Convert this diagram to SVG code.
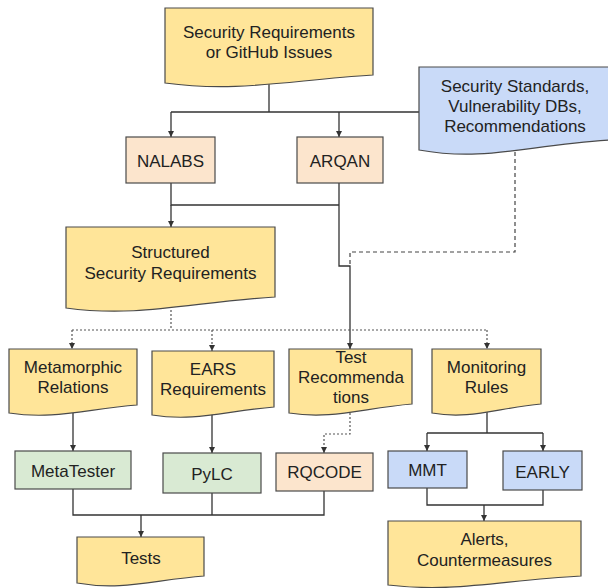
<svg xmlns="http://www.w3.org/2000/svg" width="608" height="588" viewBox="0 0 608 588">
<defs>
<marker id="arr" viewBox="0 0 10 10" refX="10" refY="5" markerWidth="6" markerHeight="6" markerUnits="userSpaceOnUse" orient="auto">
<path d="M0,0 L10,5 L0,10 Z" fill="#333"/>
</marker>
</defs>
<style>
.doc{fill:#ffe599;stroke:#4a4a4a;stroke-width:1.2}
.docb{fill:#c9daf8;stroke:#4a4a4a;stroke-width:1.2}
.org{fill:#fce5cd;stroke:#4a4a4a;stroke-width:1.2}
.grn{fill:#d9ead3;stroke:#4a4a4a;stroke-width:1.2}
.blu{fill:#c9daf8;stroke:#4a4a4a;stroke-width:1.2}
text{font-family:"Liberation Sans",Arial,sans-serif;font-size:17px;fill:#222;text-anchor:middle}
.ln{fill:none;stroke:#333;stroke-width:1.3}
.dash{fill:none;stroke:#444;stroke-width:1.2;stroke-dasharray:4,3}
.dot{fill:none;stroke:#555;stroke-width:1.2;stroke-dasharray:2,2}
</style>
<rect width="608" height="588" fill="#fff"/>

<g id="connectors">
<path class="ln" d="M269,84 V112 M171,112 H419"/>
<path class="ln" d="M171,112 V137" marker-end="url(#arr)"/>
<path class="ln" d="M339,112 V137" marker-end="url(#arr)"/>
<path class="ln" d="M171,183 V205 H339"/>
<path class="ln" d="M171,205 V227" marker-end="url(#arr)"/>
<path class="ln" d="M339,183 V266 H350 V349" marker-end="url(#arr)"/>
<path class="dash" d="M515,152 V252 H350 V266"/>
<path class="dot" d="M171,306 V330 M72,330 H487"/>
<path class="dot" d="M72,330 V349" marker-end="url(#arr)"/>
<path class="dot" d="M212,330 V351" marker-end="url(#arr)"/>
<path class="dot" d="M487,330 V349" marker-end="url(#arr)"/>
<path class="ln" d="M73,413 V451" marker-end="url(#arr)"/>
<path class="ln" d="M212,414 V453" marker-end="url(#arr)"/>
<path class="dot" d="M350,409 V434 H324 V453" marker-end="url(#arr)"/>
<path class="ln" d="M487,409 V433 M427,433 H543"/>
<path class="ln" d="M427,433 V451" marker-end="url(#arr)"/>
<path class="ln" d="M543,433 V451" marker-end="url(#arr)"/>
<path class="ln" d="M73,489 V515 H324 V491 M212,493 V515"/>
<path class="ln" d="M141,515 V537" marker-end="url(#arr)"/>
<path class="ln" d="M427,488 V505 H543 V490"/>
<path class="ln" d="M484,505 V521" marker-end="url(#arr)"/>
</g>

<g id="sec-req">
<path class="doc" d="M165,8 H373 V75 C290,80 238,93 165,83 Z"/>
<text x="269" y="38">Security Requirements</text>
<text x="269" y="58">or GitHub Issues</text>
</g>

<g id="sec-std">
<path class="docb" d="M419,67 H611 V140 C526,145 486,162 419,150 Z"/>
<text x="515" y="92">Security Standards,</text>
<text x="515" y="112">Vulnerability DBs,</text>
<text x="515" y="132">Recommendations</text>
</g>

<g id="nalabs">
<rect class="org" x="126" y="137" width="89" height="46"/>
<text x="170.5" y="167">NALABS</text>
</g>

<g id="arqan">
<rect class="org" x="297" y="137" width="86" height="46"/>
<text x="340" y="167">ARQAN</text>
</g>

<g id="structured">
<path class="doc" d="M66,227 H275 V297 C192,302 139,318 66,308 Z"/>
<text x="170.5" y="258">Structured</text>
<text x="170.5" y="279">Security Requirements</text>
</g>

<g id="metamorphic">
<path class="doc" d="M9,349 H137 V405 C86,409 54,420 9,413 Z"/>
<text x="73" y="373">Metamorphic</text>
<text x="73" y="393">Relations</text>
</g>

<g id="ears">
<path class="doc" d="M152,351 H274 V407 C225,411 195,422 152,415 Z"/>
<text x="213" y="375">EARS</text>
<text x="213" y="395">Requirements</text>
</g>

<g id="testrec">
<path class="doc" d="M289,349 H412 V404 C363,408 332,420 289,413 Z"/>
<text x="351" y="363">Test</text>
<text x="351" y="383">Recommenda</text>
<text x="351" y="403">tions</text>
</g>

<g id="monitoring">
<path class="doc" d="M432,349 H541 V404 C497,408 470,420 432,413 Z"/>
<text x="486.5" y="373">Monitoring</text>
<text x="486.5" y="393">Rules</text>
</g>

<g id="metatester">
<rect class="grn" x="15" y="451" width="116" height="38"/>
<text x="73" y="476.5">MetaTester</text>
</g>

<g id="pylc">
<rect class="grn" x="163" y="453" width="98" height="40"/>
<text x="212" y="480">PyLC</text>
</g>

<g id="rqcode">
<rect class="org" x="276" y="453" width="97" height="38"/>
<text x="324.5" y="478">RQCODE</text>
</g>

<g id="mmt">
<rect class="blu" x="388" y="451" width="79" height="37"/>
<text x="427.5" y="476">MMT</text>
</g>

<g id="early">
<rect class="blu" x="503" y="451" width="79" height="39"/>
<text x="542.5" y="478">EARLY</text>
</g>

<g id="tests">
<path class="doc" d="M77,537 H204 V576 C153,580 122,591 77,583 Z"/>
<text x="141" y="564">Tests</text>
</g>

<g id="alerts">
<path class="doc" d="M388,521 H581 V576 C503,580 455,593 388,585 Z"/>
<text x="484.5" y="545">Alerts,</text>
<text x="484.5" y="566">Countermeasures</text>
</g>
</svg>
